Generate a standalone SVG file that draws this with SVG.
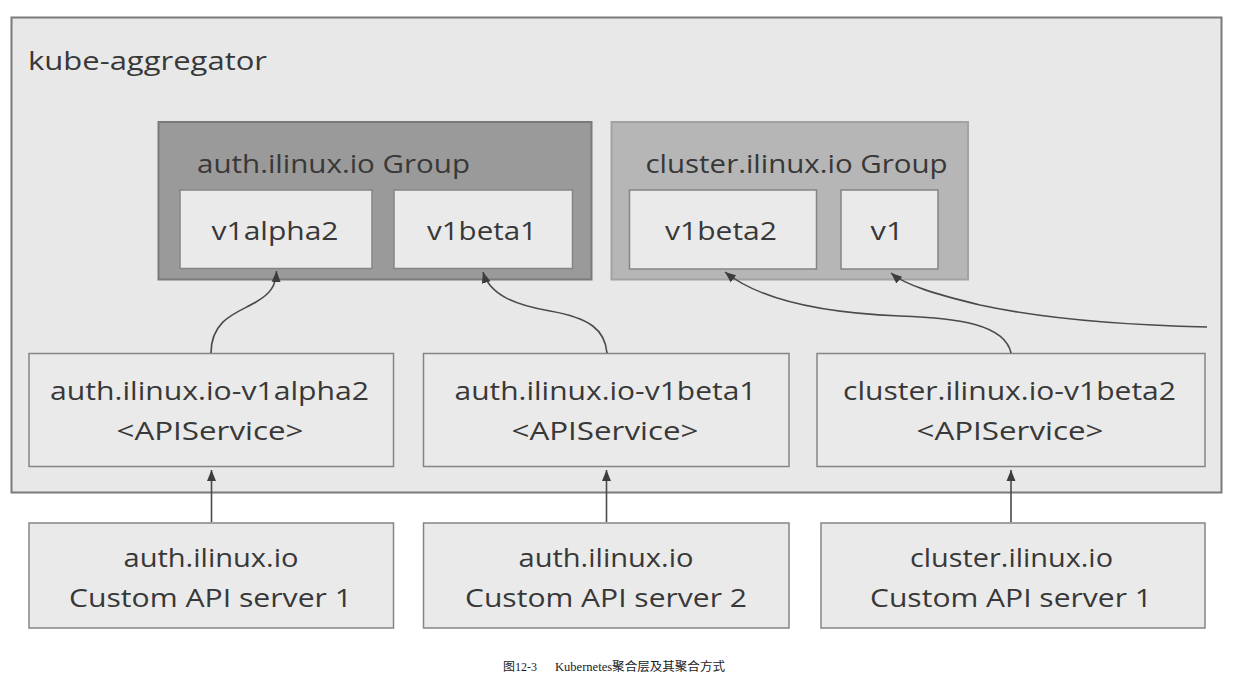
<svg xmlns="http://www.w3.org/2000/svg" width="1235" height="679" viewBox="0 0 1235 679">
<style>
.txt{font-family:"Open Sans","Noto Sans","Liberation Sans",sans-serif;fill:#383838;font-size:26px;text-anchor:middle}
.box{fill:#eaeaea;stroke:#858585;stroke-width:1.5}
.conn{fill:none;stroke:#4a4a4a;stroke-width:1.6}
</style>
<defs>
<marker id="arr" markerUnits="userSpaceOnUse" markerWidth="12" markerHeight="10" refX="11" refY="5" orient="auto">
<path d="M0,0.5 L11,5 L0,9.5 z" fill="#3c3c3c"/>
</marker>
</defs>
<rect width="1235" height="679" fill="#ffffff"/>
<g id="kube-aggregator">
<rect x="11.5" y="17.5" width="1210" height="475" fill="#e8e8e8" stroke="#7a7a7a" stroke-width="2"/>
<text class="txt" x="147.5" y="70" font-size="32" textLength="239" lengthAdjust="spacingAndGlyphs">kube-aggregator</text>
</g>
<g id="auth-group">
<rect x="158.5" y="122" width="433" height="157.5" fill="#9a9a9a" stroke="#7a7a7a" stroke-width="2"/>
<text class="txt" x="333.5" y="173" textLength="273" lengthAdjust="spacingAndGlyphs">auth.ilinux.io Group</text>
</g>
<g id="v1alpha2">
<rect class="box" x="180" y="190" width="192" height="78.5"/>
<text class="txt" x="275" y="240" textLength="127" lengthAdjust="spacingAndGlyphs">v1alpha2</text>
</g>
<g id="v1beta1">
<rect class="box" x="394" y="190" width="178.5" height="78.5"/>
<text class="txt" x="482" y="240" textLength="110" lengthAdjust="spacingAndGlyphs">v1beta1</text>
</g>
<g id="cluster-group">
<rect x="611.5" y="122" width="356.5" height="157.5" fill="#b6b6b6" stroke="#a2a2a2" stroke-width="2"/>
<text class="txt" x="796.5" y="173" textLength="302" lengthAdjust="spacingAndGlyphs">cluster.ilinux.io Group</text>
</g>
<g id="v1beta2">
<rect class="box" x="629.5" y="190" width="187" height="79"/>
<text class="txt" x="721" y="240" textLength="112" lengthAdjust="spacingAndGlyphs">v1beta2</text>
</g>
<g id="v1">
<rect class="box" x="841" y="190" width="97" height="79"/>
<text class="txt" x="887" y="240" textLength="33" lengthAdjust="spacingAndGlyphs">v1</text>
</g>
<g id="apisvc-auth-v1alpha2">
<rect class="box" x="29" y="353.5" width="364.5" height="113"/>
<text class="txt" x="209.5" y="400" textLength="319" lengthAdjust="spacingAndGlyphs">auth.ilinux.io-v1alpha2</text>
<text class="txt" x="210" y="440" textLength="187" lengthAdjust="spacingAndGlyphs">&lt;APIService&gt;</text>
</g>
<g id="apisvc-auth-v1beta1">
<rect class="box" x="423.5" y="353.5" width="365.5" height="113"/>
<text class="txt" x="605.5" y="400" textLength="302" lengthAdjust="spacingAndGlyphs">auth.ilinux.io-v1beta1</text>
<text class="txt" x="605" y="440" textLength="187" lengthAdjust="spacingAndGlyphs">&lt;APIService&gt;</text>
</g>
<g id="apisvc-cluster-v1beta2">
<rect class="box" x="817" y="353.5" width="388" height="113"/>
<text class="txt" x="1009.5" y="400" textLength="333" lengthAdjust="spacingAndGlyphs">cluster.ilinux.io-v1beta2</text>
<text class="txt" x="1010" y="440" textLength="187" lengthAdjust="spacingAndGlyphs">&lt;APIService&gt;</text>
</g>
<g id="server-auth-1">
<rect class="box" x="29" y="523" width="364.5" height="105"/>
<text class="txt" x="211" y="567" textLength="175" lengthAdjust="spacingAndGlyphs">auth.ilinux.io</text>
<text class="txt" x="210.5" y="607" textLength="283" lengthAdjust="spacingAndGlyphs">Custom API server 1</text>
</g>
<g id="server-auth-2">
<rect class="box" x="423.5" y="523" width="365.5" height="105"/>
<text class="txt" x="606" y="567" textLength="175" lengthAdjust="spacingAndGlyphs">auth.ilinux.io</text>
<text class="txt" x="606" y="607" textLength="282" lengthAdjust="spacingAndGlyphs">Custom API server 2</text>
</g>
<g id="server-cluster-1">
<rect class="box" x="821" y="523" width="384" height="105"/>
<text class="txt" x="1011.5" y="567" textLength="203" lengthAdjust="spacingAndGlyphs">cluster.ilinux.io</text>
<text class="txt" x="1011" y="607" textLength="282" lengthAdjust="spacingAndGlyphs">Custom API server 1</text>
</g>
<g id="connectors">
<path class="conn" marker-end="url(#arr)" d="M211,353 C211,318 240,312 256,302 C270,294 276,286 276.5,271"/>
<path class="conn" marker-end="url(#arr)" d="M607,353 C605,330 590,318 550,311 C515,305 490,295 483,272"/>
<path class="conn" marker-end="url(#arr)" d="M1011,353 C1005,325 960,318 900,316 C820,313 760,300 725,272"/>
<path class="conn" marker-end="url(#arr)" d="M1207,327 C1120,325 1040,318 980,305 C935,294 905,285 891,273"/>
<path class="conn" marker-end="url(#arr)" d="M211.5,522 L211.5,470"/>
<path class="conn" marker-end="url(#arr)" d="M606.5,522 L606.5,470"/>
<path class="conn" marker-end="url(#arr)" d="M1011,522 L1011,470"/>
</g>
<g id="caption" font-family="'Liberation Serif','Noto Sans CJK SC',serif" font-size="12" fill="#222">
<text x="503" y="671" textLength="34" lengthAdjust="spacingAndGlyphs">图12-3</text>
<text x="555" y="671" textLength="170" lengthAdjust="spacingAndGlyphs">Kubernetes聚合层及其聚合方式</text>
</g>
</svg>
